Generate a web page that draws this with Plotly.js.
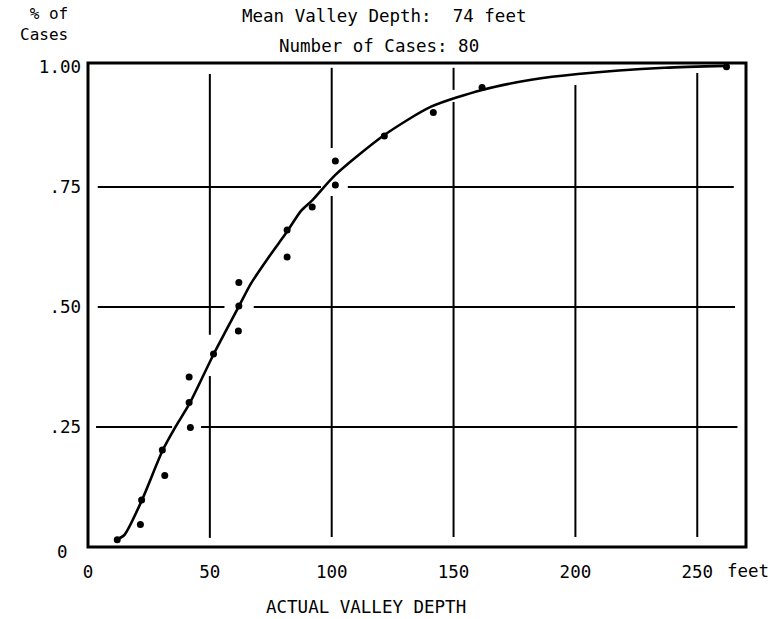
<!DOCTYPE html>
<html>
<head>
<meta charset="utf-8">
<script src="https://cdn.plot.ly/plotly-3.0.1.min.js"></script>
<style>html,body{margin:0;padding:0;background:#fff;}#chart{width:781px;height:619px;}</style>
</head>
<body>
<div id="chart"></div>
<script>
// observed cases: depth (feet) vs cumulative fraction of cases
var depthPts = [12, 21.5, 22, 31.5, 30.5, 42, 41.5, 41.5, 51.5, 61.7, 61.9, 61.9, 81.7, 81.7, 92, 101.5, 101.5, 121.6, 141.7, 161.7, 262];
var fracPts  = [0.015, 0.047, 0.098, 0.149, 0.202, 0.249, 0.301, 0.354, 0.402, 0.45, 0.502, 0.551, 0.604, 0.66, 0.708, 0.754, 0.804, 0.856, 0.905, 0.957, 1.0];

// fitted smooth curve
var curveX = [11.5, 14.9, 21.8, 30.7, 36.0, 41.7, 51.6, 61.9, 66.9, 73.8, 81.7, 87.4, 92, 101.5, 121.6, 140.8, 161.7, 181.9, 201, 236.6, 262];
var curveY = [0.015, 0.025, 0.094, 0.202, 0.251, 0.299, 0.402, 0.501, 0.549, 0.601, 0.657, 0.700, 0.722, 0.775, 0.858, 0.917, 0.952, 0.973, 0.985, 0.998, 1.002];

var xTickVals = [0, 50, 100, 150, 200, 250];
var xTickText = ['0', '50', '100', '150', '200', '250'];
var yTickVals = [0.25, 0.5, 0.75, 1.0];
var yTickText = ['.25', '.50', '.75', '1.00'];

var FONT = {family: '"DejaVu Sans Mono", "Liberation Mono", monospace', size: 17.5, color: '#000'};

var traces = [
  {x: curveX, y: curveY, mode: 'lines', type: 'scatter',
   line: {color: '#000', width: 2.6, shape: 'spline', smoothing: 0.7}, hoverinfo: 'skip'},
  {x: depthPts, y: fracPts, mode: 'markers', type: 'scatter',
   marker: {color: '#000', size: 7, symbol: 'circle'}}
];

function seg(x0, y0, x1, y1) {
  return {type: 'line', xref: 'x', yref: 'y', x0: x0, y0: y0, x1: x1, y1: y1,
          line: {color: '#000', width: 2}, layer: 'below'};
}
var shapes = [];
// vertical grid segments (with the gaps seen in the original)
shapes.push(seg(50, 0.019, 50, 0.356), seg(50, 0.442, 50, 0.985));
shapes.push(seg(100, 0.021, 100, 0.731), seg(100, 0.831, 100, 0.998));
shapes.push(seg(150, 0.021, 150, 0.927), seg(150, 0.952, 150, 0.998));
shapes.push(seg(200, 0.021, 200, 0.962));
shapes.push(seg(250, 0.021, 250, 0.987));
// horizontal grid segments
shapes.push(seg(4.0, 0.75, 95.6, 0.75), seg(106.6, 0.75, 265, 0.75));
shapes.push(seg(4.0, 0.5, 56, 0.5), seg(68, 0.5, 265.5, 0.5));
shapes.push(seg(3.3, 0.25, 34.5, 0.25), seg(46.4, 0.25, 266.5, 0.25));
// frame
shapes.push({type: 'rect', xref: 'paper', yref: 'paper', x0: 0, y0: 0, x1: 1, y1: 1,
             line: {color: '#000', width: 3}});

function ann(text, x, y, xanchor, xshift, yshift, xref, yref, font) {
  return {text: text, x: x, y: y, xref: xref || 'paper', yref: yref || 'paper',
          xanchor: xanchor, yanchor: 'middle', xshift: xshift, yshift: yshift,
          align: xanchor === 'right' ? 'right' : 'center',
          showarrow: false, font: font || FONT};
}

var SMALL = {family: FONT.family, size: 16, color: '#000'};

var annotations = [
  ann('% of<br>Cases', 0, 1, 'right', -18, 39, 'paper', 'paper', SMALL),
  ann('Mean Valley Depth:\u00a0\u00a074 feet', 0.4498, 1, 'center', 0, 47),
  ann('Number of Cases: 80', 0.4422, 1, 'center', 0, 17),
  ann('ACTUAL VALLEY DEPTH', 0.4225, 0, 'center', 0, -60),
  ann('feet', 261.4, 0, 'left', 0, -24, 'x', 'paper'),
  ann('0', 0, 0, 'right', -18, -5, 'paper', 'y')
];

var layout = {
  width: 781, height: 619,
  margin: {l: 88, r: 35, t: 63, b: 72, pad: 0},
  paper_bgcolor: '#fff', plot_bgcolor: '#fff',
  showlegend: false,
  font: FONT,
  xaxis: {range: [0, 270], showgrid: false, zeroline: false, showline: false,
          tickmode: 'array', tickvals: xTickVals, ticktext: xTickText,
          ticks: '', ticklabelstandoff: 12, tickfont: FONT, fixedrange: true},
  yaxis: {range: [0, 1.008], showgrid: false, zeroline: false, showline: false,
          tickmode: 'array', tickvals: yTickVals, ticktext: yTickText,
          ticks: '', ticklabelstandoff: 6, tickfont: FONT, fixedrange: true},
  shapes: shapes,
  annotations: annotations
};

Plotly.newPlot('chart', traces, layout, {displayModeBar: false, staticPlot: true});
</script>
</body>
</html>
